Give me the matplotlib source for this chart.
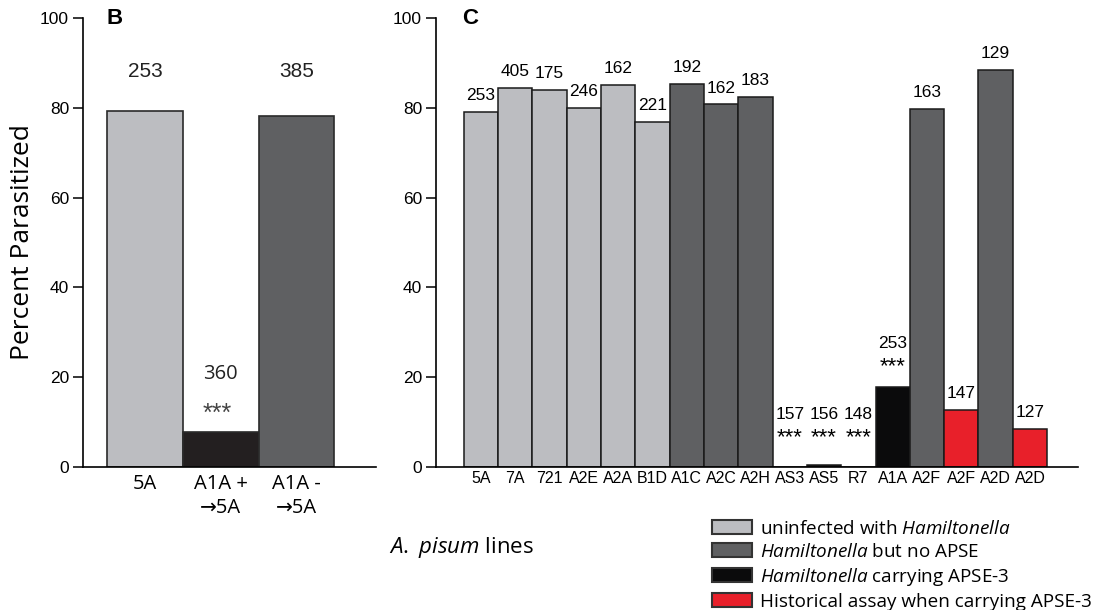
import numpy as np
import matplotlib
matplotlib.use("Agg")
import matplotlib.pyplot as plt
from matplotlib.patches import Patch

plt.rcParams['font.family'] = ['Liberation Sans', 'DejaVu Sans']
plt.rcParams['mathtext.fontset'] = 'custom'
plt.rcParams['mathtext.rm'] = 'Open Sans'
plt.rcParams['mathtext.it'] = 'Open Sans:italic'

# panel B
b_labels = ["5A", "A1A +\n\u21925A", "A1A -\n\u21925A"]
b_values = [79.2, 7.8, 78.2]
b_n = [253, 360, 385]
b_sig = ["", "***", ""]
b_group = [0, 2, 1]

# panel C
c_labels = ["5A", "7A", "721", "A2E", "A2A", "B1D", "A1C", "A2C", "A2H",
            "AS3", "AS5", "R7", "A1A", "A2F", "A2F", "A2D", "A2D"]
c_values = [79.1, 84.4, 84.0, 80.0, 85.1, 76.9, 85.3, 80.8, 82.4,
            0.0, 0.4, 0.0, 17.8, 79.8, 12.7, 88.4, 8.5]
c_n = [253, 405, 175, 246, 162, 221, 192, 162, 183,
       157, 156, 148, 253, 163, 147, 129, 127]
c_sig = ["", "", "", "", "", "", "", "", "",
         "***", "***", "***", "***", "", "", "", ""]
c_group = [0, 0, 0, 0, 0, 0, 1, 1, 1, 2, 2, 2, 2, 1, 3, 1, 3]

group_names = ["uninfected with $\\mathit{Hamiltonella}$",
               "$\\mathit{Hamiltonella}$ but no APSE",
               "$\\mathit{Hamiltonella}$ carrying APSE-3",
               "Historical assay when carrying APSE-3"]
colors = ["#bcbdc1", "#5f6062", "#0b0b0c", "#e8202a"]
b_colors = ["#bcbdc1", "#5f6062", "#231f20", "#e8202a"]

W, H = 1106, 610
fig = plt.figure(figsize=(W / 100, H / 100), dpi=100)

def style_axis(ax):
    ax.set_ylim(0, 100)
    ax.set_yticks([0, 20, 40, 60, 80, 100])
    ax.spines['top'].set_visible(False)
    ax.spines['right'].set_visible(False)
    ax.spines['left'].set_linewidth(1.2)
    ax.spines['bottom'].set_linewidth(1.2)
    ax.tick_params(axis='y', length=7, width=1.1, labelsize=12.5, pad=3)
    ax.tick_params(axis='x', length=0)

# ---- B ----
axb = fig.add_axes([83 / W, 1 - 467 / H, (376 - 83) / W, (467 - 18) / H])
xb = np.arange(len(b_values))
axb.bar(xb, b_values, width=1.0, color=[b_colors[g] for g in b_group],
        edgecolor="#2a2a2a", linewidth=1.2)
axb.set_xlim(-0.82, 3.05)
style_axis(axb)
axb.set_xticks(xb)
axb.set_xticklabels(b_labels, fontsize=14.5, family=['Open Sans', 'DejaVu Sans'],
                    linespacing=1.25)
axb.tick_params(axis='x', pad=5)
for x, v, n, s in zip(xb, b_values, b_n, b_sig):
    if s:
        axb.text(x, v + 13, str(n), ha='center', va='center', fontsize=14.5,
                 family='Open Sans', color='#222')
        axb.text(x - 0.05, v + 4.0, s, ha='center', va='center', fontsize=18,
                 color='#444')
    else:
        axb.text(x, 88, str(n), ha='center', va='center', fontsize=15, color='#222')
axb.set_ylabel("Percent Parasitized", fontsize=19, family='Open Sans')
axb.yaxis.set_label_coords(-0.165, 0.5)
axb.text(0.08, 1.0, "B", transform=axb.transAxes, fontsize=16, fontweight='bold',
         va='center', ha='left')

# ---- C ----
axc = fig.add_axes([436 / W, 1 - 467 / H, (1078 - 436) / W, (467 - 18) / H])
xc = np.arange(len(c_values))
axc.bar(xc, c_values, width=1.0, color=[colors[g] for g in c_group],
        edgecolor="#1a1a1a", linewidth=1.1)
axc.set_xlim(-1.31, 17.4)
style_axis(axc)
axc.set_xticks(xc)
axc.set_xticklabels(c_labels, fontsize=11.5)
axc.tick_params(axis='x', pad=3)
for x, v, n, s in zip(xc, c_values, c_n, c_sig):
    if s:
        base = max(v, 2)
        axc.text(x, base + 9.6, str(n), ha='center', va='center', fontsize=12.5)
        axc.text(x, base + 4.6, s, ha='center', va='center', fontsize=16)
    else:
        axc.text(x, v + 3.6, str(n), ha='center', va='center', fontsize=12.5)
axc.text(0.04, 1.0, "C", transform=axc.transAxes, fontsize=16, fontweight='bold',
         va='center', ha='left')

# legend and common x label
handles = [Patch(facecolor=c, edgecolor="#333", linewidth=1.5) for c in colors]
fig.legend(handles, group_names, loc='upper left',
           bbox_to_anchor=(712 / W, 1 - 520 / H), frameon=False,
           prop={'family': 'Open Sans', 'size': 13.6},
           handlelength=2.1, handleheight=0.75, handletextpad=0.45,
           labelspacing=0.26, borderpad=0, borderaxespad=0)

fig.text(461 / W, 1 - 547 / H, "$\\mathit{A.\\ pisum}$ lines", ha='center',
         va='center', fontsize=16, family='Open Sans')

fig.savefig("out.png", dpi=100)
